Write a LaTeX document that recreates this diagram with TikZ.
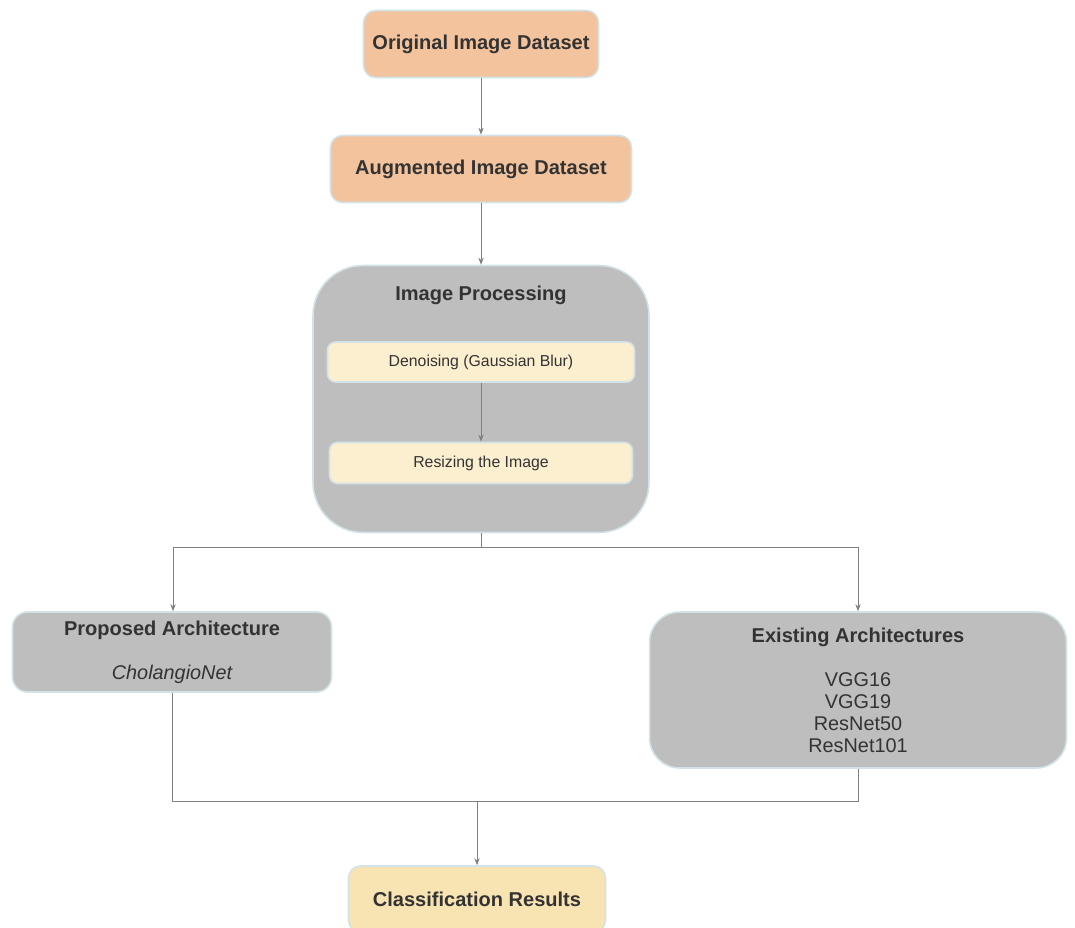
\documentclass[tikz,border=0pt]{standalone}
\usepackage{fontspec}
\setmainfont{Liberation Sans}
\usetikzlibrary{arrows.meta}
\definecolor{peach}{HTML}{F2C39D}
\definecolor{cream}{HTML}{FBEFCF}
\definecolor{sand}{HTML}{F8E4B2}
\definecolor{panel}{HTML}{BEBEBE}
\definecolor{rim}{HTML}{D3E2E6}
\definecolor{wirecol}{HTML}{7F7F7F}
\definecolor{ink}{HTML}{333333}
\newcommand{\archname}[1]{{\mdseries\fontsize{11.3}{12.4}\selectfont #1}}
\tikzset{
  stage/.style={draw=rim, line width=0.9pt, rounded corners=0.24cm, text=ink,
    inner sep=0pt, font=\bfseries\fontsize{11.4}{13.7}\selectfont},
  substage/.style={stage, fill=cream, rounded corners=0.16cm,
    font=\fontsize{9}{11}\selectfont},
  archbox/.style={stage, fill=panel, align=center,
    font=\bfseries\fontsize{11.4}{12.4}\selectfont},
  link/.style={draw=wirecol, line width=0.5pt},
  flow/.style={link, -{Stealth[length=4pt,width=3pt]}},
}

\begin{document}
\begin{tikzpicture}[x=0.02cm,y=-0.02cm]
    \useasboundingbox (0,0) rectangle (1075,927);
    % datasets
    \node[stage, fill=peach, minimum width=4.7cm, minimum height=1.34cm] (orig) at (481,44) {Original Image Dataset};
    \node[stage, fill=peach, minimum width=6.02cm, minimum height=1.34cm] (aug) at (481,169) {Augmented Image Dataset};
    % image processing block
    \node[stage, fill=panel, rounded corners=1cm, minimum width=6.72cm, minimum height=5.34cm] (ipbox) at (481,399) {};
    \node[text=ink, font=\bfseries\fontsize{11.4}{13.7}\selectfont] (iptitle) at (481,295) {Image Processing};
    \node[substage, minimum width=6.14cm, minimum height=0.8cm] (denoise) at (481,362) {Denoising (Gaussian Blur)};
    \node[substage, minimum width=6.06cm, minimum height=0.82cm] (resize) at (481,463) {Resizing the Image};
    % architectures
    \node[archbox, rounded corners=0.3cm, minimum width=6.38cm, minimum height=1.6cm] (prop) at (172,652)
      {Proposed Architecture\\[12.6pt]{\mdseries\itshape\fontsize{11.3}{12.4}\selectfont CholangioNet}};
    \node[archbox, rounded corners=0.6cm, minimum width=8.34cm, minimum height=3.12cm] (exist) at (858,690)
      {Existing Architectures\\[13pt]\archname{VGG16}\\\archname{VGG19}\\\archname{ResNet50}\\\archname{ResNet101}};
    % result
    \node[stage, fill=sand, minimum width=5.14cm, minimum height=1.32cm] (result) at (477,899) {Classification Results};
    % connectors
    \coordinate (split) at (481,547);
    \coordinate (lft) at (173,547);
    \coordinate (rgt) at (858,547);
    \coordinate (mrg) at (477,801);
    \draw[flow] (orig) -- (aug);
    \draw[flow] (aug) -- (ipbox);
    \draw[flow] (denoise) -- (resize);
    \draw[link] (ipbox.south) -- (split);
    \draw[link] (lft) -- (rgt);
    \draw[flow] (lft) -- (lft |- prop.north);
    \draw[flow] (rgt) -- (rgt |- exist.north);
    \draw[link] (prop.south) |- (mrg) -| (exist.south);
    \draw[flow] (mrg) -- (result);
\end{tikzpicture}
\end{document}
